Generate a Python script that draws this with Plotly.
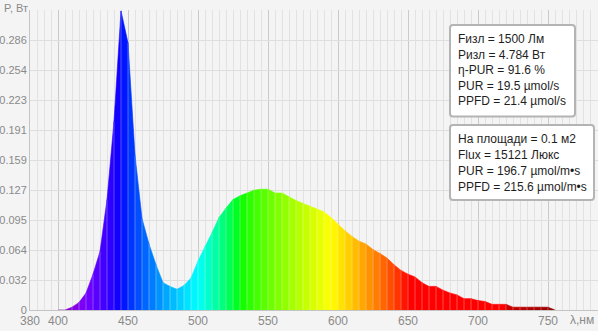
import plotly.graph_objects as go

# ---- data ----
wavelengths = list(range(400, 760, 5))
power = [0.000, 0.000, 0.003, 0.008, 0.018, 0.038, 0.062, 0.117, 0.200, 0.317,
         0.283, 0.164, 0.097, 0.070, 0.048, 0.029, 0.025, 0.022, 0.026, 0.034,
         0.052, 0.067, 0.082, 0.098, 0.108, 0.117, 0.121, 0.124, 0.127, 0.128,
         0.128, 0.124, 0.124, 0.120, 0.116, 0.113, 0.110, 0.107, 0.104, 0.098,
         0.091, 0.084, 0.078, 0.073, 0.070, 0.064, 0.060, 0.055, 0.048, 0.042,
         0.038, 0.035, 0.029, 0.025, 0.025, 0.021, 0.018, 0.016, 0.012, 0.012,
         0.010, 0.009, 0.006, 0.006, 0.006, 0.003, 0.003, 0.003, 0.003, 0.003,
         0.003, 0.000]
x_tick_vals = [380, 400, 450, 500, 550, 600, 650, 700, 750]
x_tick_text = ["380", "400", "450", "500", "550", "600", "650", "700", "750"]
y_tick_vals = [0, 0.0318, 0.0636, 0.0954, 0.1272, 0.159, 0.1908, 0.2226, 0.2544, 0.2862, 0.318]
y_tick_text = ["0", "0.032", "0.064", "0.095", "0.127", "0.159", "0.191", "0.223", "0.254", "0.286", ""]
box1_lines = ["Fизл = 1500 Лм", "Pизл = 4.784 Вт", "η-PUR = 91.6 %",
              "PUR = 19.5 µmol/s", "PPFD = 21.4 µmol/s"]
box2_lines = ["На площади = 0.1 м2", "Flux = 15121 Люкс",
              "PUR = 196.7 µmol/m•s", "PPFD = 215.6 µmol/m•s"]


def wl_color(w):
    if w < 445:
        r, g, b = (445 - w) / 65.0, 0.0, 1.0
    elif w < 500:
        r, g, b = 0.0, (w - 445) / 55.0, 1.0
    elif w < 530:
        r, g, b = 0.0, 1.0, (530 - w) / 30.0
    elif w < 595:
        r, g, b = (w - 530) / 65.0, 1.0, 0.0
    elif w < 650:
        r, g, b = 1.0, (650 - w) / 55.0, 0.0
    else:
        r, g, b = 1.0, 0.0, 0.0
    if w < 420:
        f = 0.3 + 0.7 * (w - 380) / 40.0
    elif w > 722:
        f = 0.3 + 0.7 * (780 - w) / 90.0
    else:
        f = 1.0
    def c(v):
        return int(round(255 * (max(v, 0) * f) ** 0.8)) if v > 0 else 0
    return f"rgb({c(r)},{c(g)},{c(b)})"


fig = go.Figure()
for i in range(len(wavelengths) - 1):
    w0, w1 = wavelengths[i], wavelengths[i + 1]
    v0, v1 = power[i], power[i + 1]
    col = wl_color(w0 + 2.5)
    fig.add_trace(go.Scatter(
        x=[w0, w0, w1, w1], y=[0, v0, v1, 0],
        mode="lines", fill="toself", fillcolor=col,
        line=dict(color=col, width=0.6),
        hoverinfo="skip", showlegend=False))

# light separators between segments
sx, sy = [], []
for w, v in zip(wavelengths, power):
    if v > 0:
        sx += [w, w, None]
        sy += [0, v, None]
fig.add_trace(go.Scatter(x=sx, y=sy, mode="lines",
                         line=dict(color="rgba(255,255,255,0.3)", width=1),
                         hoverinfo="skip", showlegend=False))

W, H = 598, 331
L, R, T, B = 30, 0, 10, 21
pw, ph = W - L - R, H - T - B
xmin = 380
xmax = xmin + pw / 1.4


def px(x):
    return (x - L) / pw


def py(y):
    return (H - B - y) / ph


def rounded_box(x0, y0, x1, y1, r=3):
    # pixel coords -> paper path with small rounded corners
    X = lambda v: px(v)
    Y = lambda v: py(v)
    return (f"M {X(x0 + r)} {Y(y0)} L {X(x1 - r)} {Y(y0)} "
            f"Q {X(x1)} {Y(y0)} {X(x1)} {Y(y0 + r)} "
            f"L {X(x1)} {Y(y1 - r)} Q {X(x1)} {Y(y1)} {X(x1 - r)} {Y(y1)} "
            f"L {X(x0 + r)} {Y(y1)} Q {X(x0)} {Y(y1)} {X(x0)} {Y(y1 - r)} "
            f"L {X(x0)} {Y(y0 + r)} Q {X(x0)} {Y(y0)} {X(x0 + r)} {Y(y0)} Z")


grey = "#8a8a8a"
fig.update_layout(
    width=W, height=H, autosize=False,
    margin=dict(l=L, r=R, t=T, b=B, pad=0),
    paper_bgcolor="#f4f4f4", plot_bgcolor="#f4f4f4",
    font=dict(family="Liberation Sans, Arial, sans-serif", size=12, color=grey),
    xaxis=dict(range=[xmin, xmax], tickvals=x_tick_vals, ticktext=x_tick_text,
               showgrid=True, gridcolor="#cacaca", gridwidth=1,
               minor=dict(dtick=5, tick0=380, showgrid=True, gridcolor="#e2e2e2", gridwidth=1),
               showline=True, linecolor="#c4c4c4", linewidth=1,
               zeroline=False, ticks="", tickfont=dict(size=12, color=grey),
               fixedrange=True),
    yaxis=dict(range=[0, 0.318], tickvals=y_tick_vals, ticktext=y_tick_text,
               showgrid=True, gridcolor="#dedede", gridwidth=1,
               showline=True, linecolor="#c4c4c4", linewidth=1,
               zeroline=False, ticks="", tickfont=dict(size=11, color=grey),
               fixedrange=True),
)

annotations = [
    dict(text="P, Вт", xref="paper", yref="paper", x=px(2), y=py(8),
         xanchor="left", yanchor="middle", showarrow=False,
         font=dict(size=11, color=grey)),
    dict(text="λ,нм", xref="paper", yref="paper", x=px(568), y=py(320),
         xanchor="left", yanchor="middle", showarrow=False,
         font=dict(size=12, color=grey)),
]
for k, t in enumerate(box1_lines):
    annotations.append(dict(text=t, xref="paper", yref="paper", x=px(456), y=py(39 + 15.6 * k),
                            xanchor="left", yanchor="middle", showarrow=False,
                            font=dict(size=12, color="#1e1e1e")))
for k, t in enumerate(box2_lines):
    annotations.append(dict(text=t, xref="paper", yref="paper", x=px(456), y=py(138.5 + 16.3 * k),
                            xanchor="left", yanchor="middle", showarrow=False,
                            font=dict(size=12, color="#1e1e1e")))
fig.update_layout(annotations=annotations)

shapes = [
    dict(type="path", xref="paper", yref="paper", path=rounded_box(450, 25, 575, 116.5),
         fillcolor="white", line=dict(color="#b4b4b4", width=2), layer="above"),
    dict(type="path", xref="paper", yref="paper", path=rounded_box(450, 125, 594, 200),
         fillcolor="white", line=dict(color="#b4b4b4", width=2), layer="above"),
]
fig.update_layout(shapes=shapes)

fig.write_html("out.html", config={"displayModeBar": False})
